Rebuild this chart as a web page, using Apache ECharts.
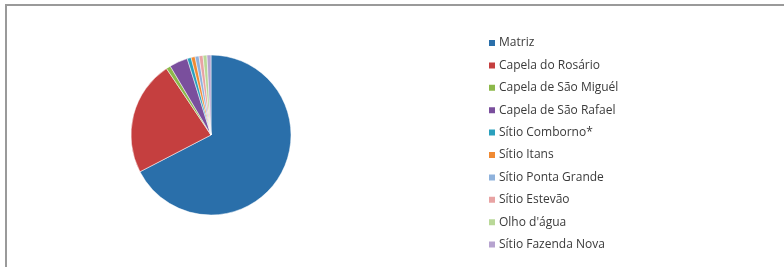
<!DOCTYPE html>
<html><head><meta charset="utf-8">
<script src="https://cdn.jsdelivr.net/npm/echarts@6/dist/echarts.min.js"></script>
<style>html,body{margin:0;padding:0;background:#fff}#c{width:784px;height:267px}
#frame{position:absolute;left:5px;top:4px;width:790px;height:261px;border-left:2px solid #9a9a9a;border-top:2px solid #9a9a9a;border-bottom:1px solid #e4e4e4;pointer-events:none}</style>
</head><body>
<div id="c"></div><div id="frame"></div>
<script>
const categories = ["Matriz","Capela do Rosário","Capela de São Miguél","Capela de São Rafael","Sítio Comborno*","Sítio Itans","Sítio Ponta Grande","Sítio Estevão","Olho d'água","Sítio Fazenda Nova"];
const values = [67.4, 23.2, 0.9, 3.7, 0.8, 0.8, 0.8, 0.8, 0.8, 0.8];
const colors = ["#2a6faa","#c53f3f","#8cb84a","#7a4f9d","#2aa0bd","#f08a33","#8fb2dc","#e8a3a3","#b9d898","#b6a3cf"];
const chart = echarts.init(document.getElementById('c'));
chart.setOption({
  animation:false,
  legend:{orient:'vertical',left:482,top:32,itemWidth:8,itemHeight:8,itemGap:10.4,icon:'rect',
    textStyle:{fontFamily:'Open Sans',fontSize:12,color:'#3a3a3a',padding:[0,0,0,-2]},
    data:categories},
  series:[{type:'pie',center:[211,135],radius:80,startAngle:90,clockwise:true,
    label:{show:false},labelLine:{show:false},
    itemStyle:{borderColor:'#fff',borderWidth:0.5},
    data:categories.map((n,i)=>({name:n,value:values[i],itemStyle:{color:colors[i]}}))}]
});
</script></body></html>
